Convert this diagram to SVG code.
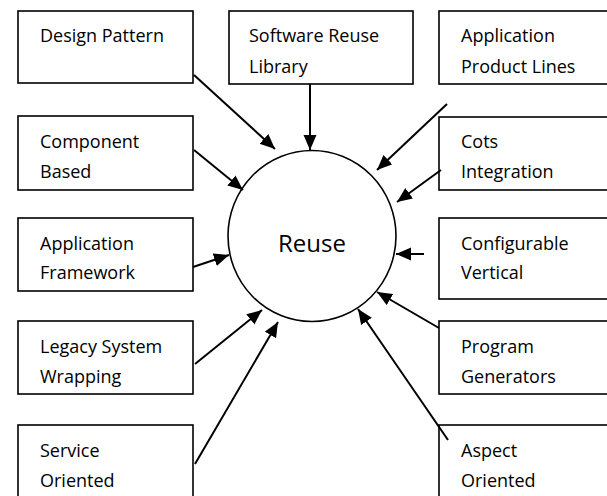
<svg xmlns="http://www.w3.org/2000/svg" width="607" height="496" viewBox="0 0 607 496">
<style>
.box{fill:#fff;stroke:#000;stroke-width:1.6}
.t{font-family:"Open Sans","Liberation Sans",sans-serif;font-size:18px;fill:#000}
.big{font-family:"Open Sans","Liberation Sans",sans-serif;font-size:24px;fill:#000;text-anchor:middle}
.c line{stroke:#000;stroke-width:2;marker-end:url(#ah)}
</style>
<defs>
<marker id="ah" markerUnits="userSpaceOnUse" markerWidth="16" markerHeight="14" refX="15" refY="6.5" orient="auto">
<path d="M0,0 L15,6.5 L0,13 Z" fill="#000"/>
</marker>
</defs>
<rect width="607" height="496" fill="#fff"/>
<g id="design-pattern"><rect class="box" x="18" y="11" width="175" height="72"/><text class="t" x="40" y="42">Design Pattern</text></g>
<g id="software-reuse-library"><rect class="box" x="229" y="11" width="184" height="73"/><text class="t" x="249" y="42">Software Reuse</text><text class="t" x="249" y="73">Library</text></g>
<g id="application-product-lines"><rect class="box" x="439" y="11" width="180" height="73"/><text class="t" x="461" y="42">Application</text><text class="t" x="461" y="73">Product Lines</text></g>
<g id="component-based"><rect class="box" x="18" y="116" width="175" height="74"/><text class="t" x="40" y="148">Component</text><text class="t" x="40" y="178">Based</text></g>
<g id="cots-integration"><rect class="box" x="439" y="117" width="180" height="73"/><text class="t" x="461" y="148">Cots</text><text class="t" x="461" y="178">Integration</text></g>
<g id="application-framework"><rect class="box" x="18" y="218" width="175" height="73"/><text class="t" x="40" y="250">Application</text><text class="t" x="40" y="279">Framework</text></g>
<g id="configurable-vertical"><rect class="box" x="439" y="218" width="180" height="81"/><text class="t" x="461" y="250">Configurable</text><text class="t" x="461" y="279">Vertical</text></g>
<g id="legacy-system-wrapping"><rect class="box" x="18" y="321" width="175" height="73"/><text class="t" x="40" y="353">Legacy System</text><text class="t" x="40" y="383">Wrapping</text></g>
<g id="program-generators"><rect class="box" x="439" y="321" width="180" height="73"/><text class="t" x="461" y="353">Program</text><text class="t" x="461" y="383">Generators</text></g>
<g id="service-oriented"><rect class="box" x="18" y="425" width="175" height="90"/><text class="t" x="40" y="457">Service</text><text class="t" x="40" y="487">Oriented</text></g>
<g id="aspect-oriented"><rect class="box" x="439" y="425" width="180" height="90"/><text class="t" x="461" y="457">Aspect</text><text class="t" x="461" y="487">Oriented</text></g>
<g id="reuse"><ellipse cx="312" cy="236" rx="84" ry="85.5" fill="#fff" stroke="#000" stroke-width="1.6"/><text class="big" x="312" y="252">Reuse</text></g>
<g class="c" id="connectors">
<line x1="194" y1="75" x2="275" y2="149"/>
<line x1="310" y1="84" x2="310" y2="150"/>
<line x1="447" y1="104" x2="377" y2="170"/>
<line x1="194" y1="150" x2="243" y2="190"/>
<line x1="441" y1="170" x2="397" y2="202"/>
<line x1="424" y1="254" x2="396" y2="254"/>
<line x1="439" y1="328" x2="377" y2="292"/>
<line x1="448" y1="440" x2="358" y2="309"/>
<line x1="193" y1="267" x2="229" y2="255"/>
<line x1="195" y1="364" x2="262" y2="310"/>
<line x1="195" y1="464" x2="278" y2="322"/>
</g>
</svg>
